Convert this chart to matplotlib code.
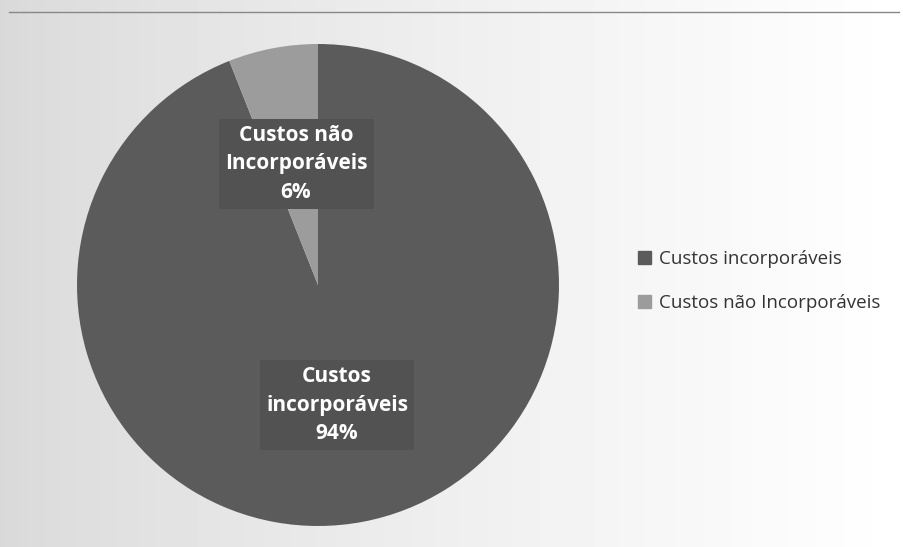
import numpy as np
import matplotlib.pyplot as plt

# Chart data
labels = ['Custos incorporáveis', 'Custos não Incorporáveis']
shares = [94, 6]
colors = ['#5b5b5b', '#9c9c9c']
label_texts = ['Custos\nincorporáveis\n94%', 'Custos não\nIncorporáveis\n6%']

W, H = 904, 547
fig = plt.figure(figsize=(W / 100, H / 100), dpi=100)

# scanned-looking gray gradient background (light gray left -> white right)
bg = fig.add_axes([0, 0, 1, 1])
grad = 0.85 + 0.15 * np.linspace(0, 1, 256) ** 0.8
bg.imshow(np.tile(grad, (20, 1)), cmap='gray', vmin=0, vmax=1,
          aspect='auto', extent=[0, 1, 0, 1])
bg.plot([0.01, 0.995], [1 - 12 / H, 1 - 12 / H], color='#888888', lw=1)
bg.set_xlim(0, 1)
bg.set_ylim(0, 1)
bg.axis('off')

# pie axes: center (318, 285), radius ~240 px
cx, cy, r = 318, 285, 241
ax = fig.add_axes([(cx - r) / W, 1 - (cy + r) / H, 2 * r / W, 2 * r / H])
wedges, _ = ax.pie(shares, colors=colors, startangle=90, counterclock=False,
                   wedgeprops=dict(linewidth=0))
ax.set_aspect('auto')
ax.set_xlim(-1, 1)
ax.set_ylim(-1, 1)

# data labels in dark boxes
box = dict(boxstyle='square,pad=0.3', facecolor='#525252', edgecolor='none')
ax.text((337 - cx) / r, (cy - 405) / r, label_texts[0], ha='center', va='center',
        color='white', fontsize=15, fontweight='bold', family='Open Sans',
        linespacing=1.45, bbox=box)
ax.text((296 - cx) / r, (cy - 164) / r, label_texts[1], ha='center', va='center',
        color='white', fontsize=15, fontweight='bold', family='Open Sans',
        linespacing=1.45, bbox=box)

# legend
handles = [plt.Rectangle((0, 0), 1, 1, color=c) for c in colors]
fig.legend(handles, labels, loc='center left', bbox_to_anchor=(621 / W, 1 - 281 / H),
           frameon=False, handlelength=0.7, handleheight=0.7,
           handletextpad=0.45, labelspacing=1.4, labelcolor='#333333',
           prop={'family': 'Open Sans', 'size': 13.5})

fig.savefig('out.png', dpi=100)
